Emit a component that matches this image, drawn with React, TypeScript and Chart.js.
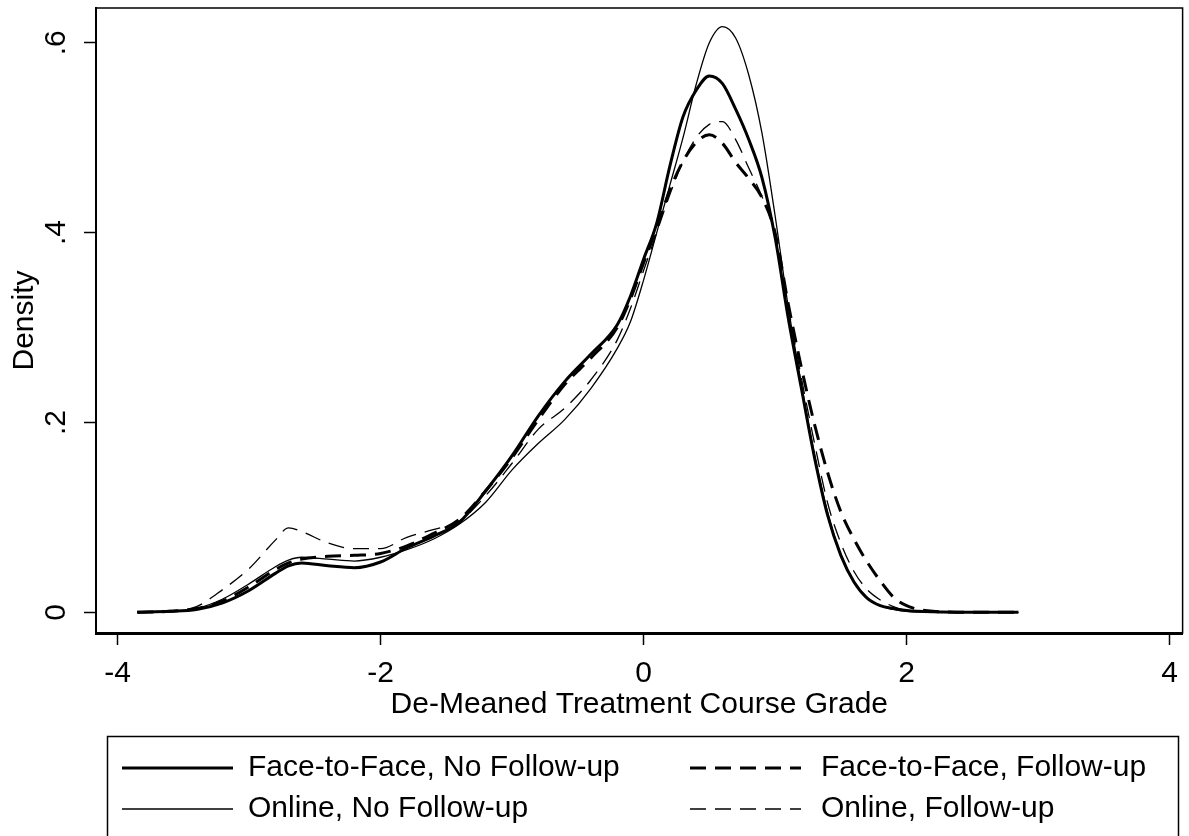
import React, { useEffect, useRef } from "react";
import { Chart, registerables } from "chart.js";

Chart.register(...registerables);

// ---- data ----
const xs = [
  -3.85, -3.6, -3.4, -3.2, -3.0, -2.8, -2.7, -2.6, -2.4, -2.2, -2.0, -1.8, -1.6, -1.4, -1.2,
  -1.0, -0.8, -0.6, -0.4, -0.2, -0.1, 0, 0.1, 0.2, 0.3, 0.4, 0.5, 0.6, 0.7, 0.8, 0.9, 1.0,
  1.1, 1.2, 1.3, 1.4, 1.5, 1.6, 1.7, 1.8, 1.9, 2.0, 2.2, 2.5, 2.85,
];

const f2fNoFollowUp = [
  0, 0.001, 0.003, 0.01, 0.023, 0.041, 0.049, 0.052, 0.049, 0.047, 0.053, 0.068, 0.08, 0.095, 0.128,
  0.165, 0.207, 0.243, 0.272, 0.303, 0.333, 0.372, 0.41, 0.47, 0.522, 0.55, 0.565, 0.557, 0.53, 0.498, 0.458, 0.395,
  0.31, 0.236, 0.163, 0.102, 0.06, 0.032, 0.015, 0.007, 0.004, 0.002, 0.0005, 0, 0,
];

const onlineNoFollowUp = [
  0, 0.001, 0.004, 0.014, 0.03, 0.048, 0.055, 0.058, 0.056, 0.054, 0.058, 0.066, 0.077, 0.093, 0.116,
  0.15, 0.178, 0.203, 0.236, 0.278, 0.306, 0.35, 0.4, 0.45, 0.5, 0.556, 0.6, 0.617, 0.605, 0.566, 0.505, 0.418,
  0.322, 0.24, 0.166, 0.105, 0.061, 0.032, 0.015, 0.007, 0.003, 0.001, 0.0003, 0, 0,
];

const f2fFollowUp = [
  0, 0.001, 0.004, 0.012, 0.027, 0.045, 0.052, 0.056, 0.059, 0.06, 0.062, 0.07, 0.083, 0.098, 0.128,
  0.163, 0.203, 0.24, 0.268, 0.3, 0.33, 0.368, 0.405, 0.445, 0.475, 0.495, 0.503, 0.494, 0.474, 0.457, 0.437, 0.4,
  0.325, 0.258, 0.198, 0.147, 0.106, 0.077, 0.053, 0.033, 0.016, 0.007, 0.001, 0, 0,
];

const onlineFollowUp = [
  0, 0.001, 0.006, 0.024, 0.046, 0.076, 0.089, 0.085, 0.073, 0.067, 0.067, 0.079, 0.087, 0.096, 0.123,
  0.157, 0.193, 0.215, 0.245, 0.287, 0.32, 0.36, 0.4, 0.44, 0.475, 0.5, 0.514, 0.517, 0.498, 0.468, 0.438, 0.398,
  0.322, 0.247, 0.178, 0.115, 0.073, 0.043, 0.024, 0.013, 0.006, 0.002, 0.0005, 0, 0,
];

const seriesLabels = [
  "Face-to-Face, No Follow-up",
  "Online, No Follow-up",
  "Face-to-Face, Follow-up",
  "Online, Follow-up",
];

const xTicks = [-4, -2, 0, 2, 4];
const xTickLabels = ["-4", "-2", "0", "2", "4"];
const yTicks = [0, 0.2, 0.4, 0.6];
const yTickLabels = ["0", ".2", ".4", ".6"];
const xTitle = "De-Meaned Treatment Course Grade";
const yTitle = "Density";

const FONT = "'Liberation Sans', Arial, Helvetica, sans-serif";

const toPoints = (ys: number[]) => xs.map((x, i) => ({ x, y: ys[i] }));

const decorPlugin = {
  id: "decor",
  afterDraw(chart: any) {
    const { ctx, chartArea: a, scales } = chart;
    ctx.save();
    // plot region box
    ctx.strokeStyle = "#000";
    ctx.lineWidth = 1.5;
    ctx.setLineDash([]);
    ctx.strokeRect(a.left, a.top, a.right - a.left, a.bottom - a.top);

    // rotated y tick labels
    ctx.fillStyle = "#000";
    ctx.font = `30px ${FONT}`;
    ctx.textAlign = "center";
    ctx.textBaseline = "middle";
    yTicks.forEach((v, i) => {
      const py = scales.y.getPixelForValue(v);
      ctx.save();
      ctx.translate(57, py);
      ctx.rotate(-Math.PI / 2);
      ctx.fillText(yTickLabels[i], 0, 0);
      ctx.restore();
    });

    // legend box
    ctx.lineWidth = 1.5;
    ctx.strokeRect(107.5, 736.5, 1071, 110);

    const cells = [
      { ds: 0, col: 0, row: 0 },
      { ds: 2, col: 1, row: 0 },
      { ds: 1, col: 0, row: 1 },
      { ds: 3, col: 1, row: 1 },
    ];
    ctx.textAlign = "left";
    ctx.textBaseline = "middle";
    cells.forEach((c) => {
      const d = chart.data.datasets[c.ds];
      const lx = c.col === 0 ? 122 : 690;
      const tx = c.col === 0 ? 248 : 821;
      const y = c.row === 0 ? 768 : 809;
      ctx.beginPath();
      ctx.lineWidth = d.borderWidth;
      ctx.setLineDash(d.borderDash || []);
      ctx.moveTo(lx, y);
      ctx.lineTo(lx + 111, y);
      ctx.stroke();
      ctx.setLineDash([]);
      ctx.fillText(d.label, tx, y);
    });
    ctx.restore();
  },
};

export default function App() {
  const ref = useRef<HTMLCanvasElement | null>(null);

  useEffect(() => {
    if (!ref.current) return;
    const common = {
      borderColor: "#000",
      pointRadius: 0,
      fill: false,
      cubicInterpolationMode: "monotone" as const,
    };
    const chart = new Chart(ref.current, {
      type: "line",
      data: {
        datasets: [
          { ...common, label: seriesLabels[0], data: toPoints(f2fNoFollowUp), borderWidth: 3, borderDash: [] },
          { ...common, label: seriesLabels[1], data: toPoints(onlineNoFollowUp), borderWidth: 1.3, borderDash: [] },
          { ...common, label: seriesLabels[2], data: toPoints(f2fFollowUp), borderWidth: 3, borderDash: [16, 9] },
          { ...common, label: seriesLabels[3], data: toPoints(onlineFollowUp), borderWidth: 1.3, borderDash: [16, 9] },
        ],
      },
      options: {
        animation: false,
        responsive: false,
        devicePixelRatio: 1,
        layout: { padding: { left: 0, top: 8, right: 6, bottom: 0 } },
        plugins: { legend: { display: false }, tooltip: { enabled: false } },
        scales: {
          x: {
            type: "linear",
            min: -4.164,
            max: 4.099,
            afterBuildTicks: (s: any) => {
              s.ticks = xTicks.map((v) => ({ value: v }));
            },
            afterFit: (s: any) => {
              s.height = 203;
            },
            ticks: {
              color: "#000",
              font: { family: FONT, size: 30 },
              padding: 11,
              maxRotation: 0,
              autoSkip: false,
              callback: (v: any) => {
                const i = xTicks.indexOf(Number(v));
                return i >= 0 ? xTickLabels[i] : "";
              },
            },
            grid: {
              display: true,
              drawOnChartArea: false,
              drawTicks: true,
              tickLength: 12,
              tickWidth: 1.5,
              tickColor: "#000",
              color: "#000",
            },
            border: { display: true, color: "#000", width: 3 },
            title: {
              display: true,
              text: xTitle,
              color: "#000",
              font: { family: FONT, size: 30 },
              padding: { top: 0, bottom: 113 },
            },
          },
          y: {
            type: "linear",
            min: -0.0218,
            max: 0.6366,
            afterBuildTicks: (s: any) => {
              s.ticks = yTicks.map((v) => ({ value: v }));
            },
            afterFit: (s: any) => {
              s.width = 96;
            },
            ticks: { display: false },
            grid: {
              display: true,
              drawOnChartArea: false,
              drawTicks: true,
              tickLength: 12,
              tickWidth: 1.5,
              tickColor: "#000",
              color: "#000",
            },
            border: { display: true, color: "#000", width: 2 },
            title: {
              display: true,
              text: yTitle,
              color: "#000",
              font: { family: FONT, size: 30 },
              padding: { top: 7, bottom: 0 },
            },
          },
        },
      },
      plugins: [decorPlugin],
    } as any);
    return () => chart.destroy();
  }, []);

  return (
    <div style={{ position: "fixed", left: 0, top: 0, width: 1189, height: 836, background: "#fff" }}>
      <canvas ref={ref} width={1189} height={836} style={{ display: "block", width: 1189, height: 836 }} />
    </div>
  );
}
